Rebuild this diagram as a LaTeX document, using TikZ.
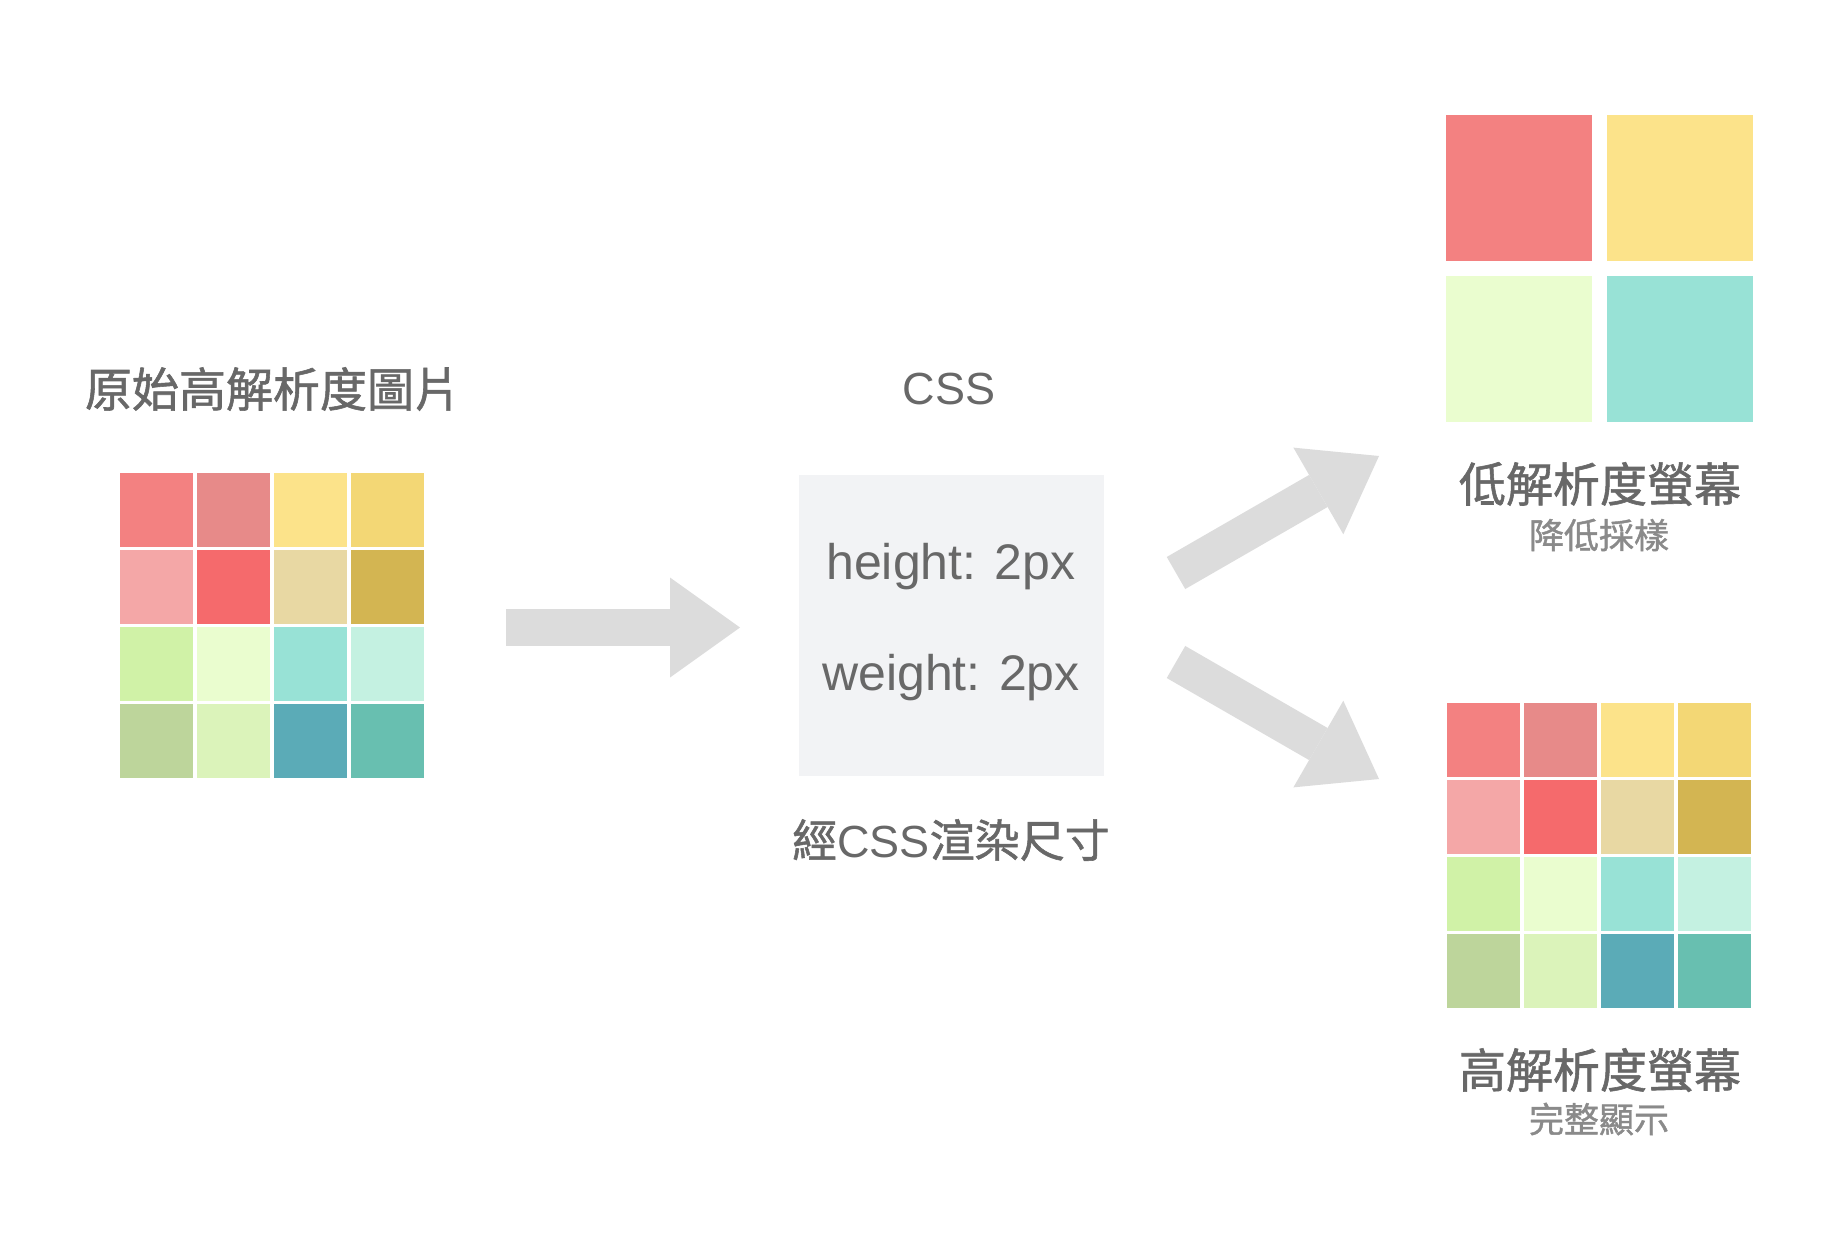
\documentclass[tikz,border=0pt]{standalone}
\usepackage{fontspec}
\setmainfont{Liberation Sans}
\newfontfamily\cjk[FakeBold=1.2]{Noto Sans CJK TC}
\usetikzlibrary{arrows.meta,positioning}
\definecolor{txtgray}{HTML}{686868}
\definecolor{subgray}{HTML}{8A8A8A}
\definecolor{arrgray}{HTML}{DCDCDC}
\definecolor{boxgray}{HTML}{F2F3F5}
% pixel colours, row by row
\definecolor{g11}{HTML}{F38181}\definecolor{g12}{HTML}{E78A89}
\definecolor{g13}{HTML}{FCE38A}\definecolor{g14}{HTML}{F3D775}
\definecolor{g21}{HTML}{F4A7A7}\definecolor{g22}{HTML}{F56A6C}
\definecolor{g23}{HTML}{E8D8A3}\definecolor{g24}{HTML}{D3B552}
\definecolor{g31}{HTML}{D0F2A7}\definecolor{g32}{HTML}{EAFDCF}
\definecolor{g33}{HTML}{98E2D6}\definecolor{g34}{HTML}{C4F1E1}
\definecolor{g41}{HTML}{BDD59B}\definecolor{g42}{HTML}{DBF3BA}
\definecolor{g43}{HTML}{5BABB7}\definecolor{g44}{HTML}{68BFB0}

\begin{document}
\begin{tikzpicture}[x=0.5pt,y=-0.5pt,
  cell/.style={minimum size=36.75pt,inner sep=0pt,outer sep=0pt},
  bigcell/.style={minimum size=73pt,inner sep=0pt,outer sep=0pt},
  heading/.style={font=\cjk\fontsize{23.5pt}{28pt}\selectfont,text=txtgray,inner sep=0pt},
  subhead/.style={font=\cjk\fontsize{17.5pt}{21pt}\selectfont,text=subgray,inner sep=0pt},
  code/.style={font=\fontsize{25pt}{30pt}\selectfont,text=txtgray,inner sep=0pt,anchor=base},
  bigarrow/.style={draw=arrgray,line width=18.5pt,
                   -{Triangle[length=35pt,width=50pt,line width=0pt]}}]
\fill[white] (0,0) rectangle (1838,1254);
\useasboundingbox (0,0) rectangle (1838,1254);

% source image and high-res screen
\foreach \r in {1,...,4}
  \foreach \c in {1,...,4} {
    \node[cell,fill=g\r\c] (src-\r-\c) at ({156.5+77*(\c-1)},{510+77*(\r-1)}) {};
    \node[cell,fill=g\r\c] (hi-\r-\c) at ({1483.5+77*(\c-1)},{740+77*(\r-1)}) {};
  }

% low-res screen
\node[bigcell,fill=g11] (lo-1-1) at (1519,188) {};
\node[bigcell,fill=g13] (lo-1-2) at (1680,188) {};
\node[bigcell,fill=g32] (lo-2-1) at (1519,349) {};
\node[bigcell,fill=g33] (lo-2-2) at (1680,349) {};

% css box
\node[fill=boxgray,minimum width=152.5pt,minimum height=150.5pt,inner sep=0pt] (css) at (951.5,625.5) {};
\node[code] (hline) at (951,579) {height: 2px};
\node[code] (wline) at (951,690) {weight: 2px};

% labels
\node[heading] (srcname) at (273,389) {原始高解析度圖片};
\node[font=\fontsize{22.5pt}{27pt}\selectfont,text=txtgray,inner sep=0pt] (cssname) at (949,389) {CSS};
\node[heading,font=\cjk\fontsize{22.5pt}{27pt}\selectfont] (cssnote) at (951,840) {經{\normalfont CSS}渲染尺寸};
\node[heading] (loname) at (1600,484) {低解析度螢幕};
\node[subhead] (losub) at (1599,535) {降低採樣};
\node[heading] (hiname) at (1600,1070) {高解析度螢幕};
\node[subhead] (hisub) at (1599,1119) {完整顯示};

% arrows
\coordinate (a1s) at (506,627.5);  \coordinate (a1e) at (740,627.5);
\coordinate (a2s) at (1176,573);   \coordinate (a2e) at (1379,456);
\coordinate (a3s) at (1176,662);   \coordinate (a3e) at (1379,779);
\draw[bigarrow] (a1s) -- (a1e);
\draw[bigarrow] (a2s) -- (a2e);
\draw[bigarrow] (a3s) -- (a3e);
\end{tikzpicture}
\end{document}
